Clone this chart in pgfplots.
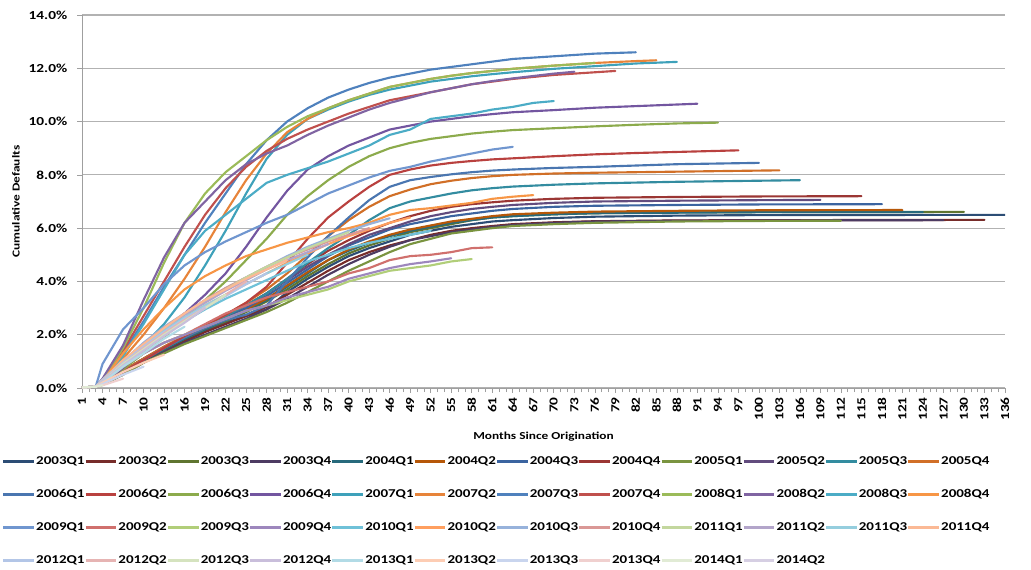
\documentclass[border=0pt]{standalone}
\usepackage{fontspec}
\setmainfont{Carlito}[FakeStretch=1.25]
\usepackage{pgfplots}
\pgfplotsset{compat=1.18}

\definecolor{gridgray}{RGB}{178,178,178}
% 2003Q1 .. 2004Q2
\definecolor{c01}{HTML}{2C4D75}\definecolor{c02}{HTML}{772C2A}\definecolor{c03}{HTML}{5F7530}
\definecolor{c04}{HTML}{4D3B62}\definecolor{c05}{HTML}{276A7C}\definecolor{c06}{HTML}{B65708}
% 2004Q3 .. 2005Q4
\definecolor{c07}{HTML}{3B64A0}\definecolor{c08}{HTML}{9B3634}\definecolor{c09}{HTML}{7A9440}
\definecolor{c10}{HTML}{624C7E}\definecolor{c11}{HTML}{338CA0}\definecolor{c12}{HTML}{D16F27}
% 2006Q1 .. 2007Q2
\definecolor{c13}{HTML}{4A76B0}\definecolor{c14}{HTML}{B9413F}\definecolor{c15}{HTML}{8CAB4C}
\definecolor{c16}{HTML}{7356A0}\definecolor{c17}{HTML}{3EA1BA}\definecolor{c18}{HTML}{E7843A}
% 2007Q3 .. 2008Q4
\definecolor{c19}{HTML}{4F81BD}\definecolor{c20}{HTML}{C0504D}\definecolor{c21}{HTML}{9BBB59}
\definecolor{c22}{HTML}{8064A2}\definecolor{c23}{HTML}{4BACC6}\definecolor{c24}{HTML}{F79646}
% 2009Q1 .. 2010Q2
\definecolor{c25}{HTML}{7096CF}\definecolor{c26}{HTML}{D0706D}\definecolor{c27}{HTML}{B1CE79}
\definecolor{c28}{HTML}{9D87BD}\definecolor{c29}{HTML}{6FC1D8}\definecolor{c30}{HTML}{FF9F5F}
% 2010Q3 .. 2011Q4
\definecolor{c31}{HTML}{97B2DB}\definecolor{c32}{HTML}{DA9896}\definecolor{c33}{HTML}{C3D79E}
\definecolor{c34}{HTML}{B3A5CA}\definecolor{c35}{HTML}{95CEDE}\definecolor{c36}{HTML}{FBB995}
% 2012Q1 .. 2013Q2
\definecolor{c37}{HTML}{B3C6E7}\definecolor{c38}{HTML}{E6B4B3}\definecolor{c39}{HTML}{D5E3BF}
\definecolor{c40}{HTML}{C9BEDB}\definecolor{c41}{HTML}{B2DBE6}\definecolor{c42}{HTML}{FDCDB4}
% 2013Q3 .. 2014Q2
\definecolor{c43}{HTML}{C9D5EE}\definecolor{c44}{HTML}{F0D0CF}\definecolor{c45}{HTML}{E1EBD5}
\definecolor{c46}{HTML}{D6CFE3}

\begin{document}
\begin{tikzpicture}
\useasboundingbox (0,0) rectangle (773.25pt,426.75pt);
\begin{axis}[
    at={(61.5pt,135.75pt)}, anchor=south west,
    scale only axis, width=692.25pt, height=279.75pt,
    xmin=1, xmax=136, ymin=0, ymax=14,
    axis x line*=bottom, axis y line*=left,
    axis line style={gray!75},
    xtick={1,4,...,136}, minor xtick={1,...,136},
    ytick={0,2,...,14},
    tick align=outside,
    major tick length=3.5pt, minor tick length=3pt,
    every tick/.style={gray!75},
    ymajorgrids, grid style={gridgray, line width=0.8pt},
    /pgf/number format/assume math mode=true,
    yticklabel={\pgfmathprintnumber[fixed,fixed zerofill,precision=1]{\tick}\%},
    yticklabel style={xshift=-4pt},
    xticklabel style={rotate=90, anchor=east},
    tick label style={font=\fontsize{9.2}{10}\selectfont\bfseries},
    xlabel={Months Since Origination},
    ylabel={Cumulative Defaults},
    xlabel style={at={(axis description cs:0.5,-0.131)}, anchor=center,
                  font=\fontsize{8}{9}\selectfont\bfseries},
    ylabel style={at={(axis description cs:-0.0715,0.5)}, anchor=center, rotate=0,
                  font=\fontsize{8}{9}\selectfont\bfseries},
    every axis plot/.append style={line width=1.6pt, line join=round, line cap=round, no markers},
    legend columns=12,
    legend cell align=left,
    legend image code/.code={\draw[#1, line width=2.2pt, line cap=butt] (0pt,0pt) -- (23pt,0pt);},
    legend style={at={(-0.087,-0.1823)}, anchor=north west, draw=none, fill=none,
                  inner xsep=0pt, inner ysep=0pt, column sep=0pt, row sep=17.25pt,
                  font=\fontsize{9}{10}\selectfont\bfseries,
                  nodes={text width=35.5pt, align=left, inner xsep=0.5pt, inner ysep=0pt,
                         text height=6pt, text depth=1.5pt}},
]
\addplot[c01] coordinates {(1,0.02)(3,0.05)(4,0.13)(7,0.6)(10,1.05)(13,1.45)(16,1.8)(19,2.15)(22,2.45)(25,2.7)(28,2.95)(31,3.6)(34,4.1)(37,4.55)(40,4.95)(43,5.25)(46,5.5)(49,5.75)(52,5.9)(55,6.05)(58,6.15)(61,6.25)(64,6.3)(70,6.38)(76,6.43)(88,6.47)(100,6.49)(136,6.5)};
\addlegendentry{2003Q1}
\addplot[c02] coordinates {(1,0.02)(3,0.05)(4,0.12)(7,0.55)(10,1.0)(13,1.4)(16,1.75)(19,2.1)(22,2.4)(25,2.7)(28,3.05)(31,3.5)(34,3.95)(37,4.4)(40,4.8)(43,5.1)(46,5.35)(49,5.55)(52,5.75)(55,5.9)(58,6.0)(61,6.08)(64,6.15)(70,6.22)(76,6.26)(88,6.29)(100,6.3)(133,6.31)};
\addlegendentry{2003Q2}
\addplot[c03] coordinates {(1,0.02)(3,0.05)(4,0.15)(7,0.6)(10,1.05)(13,1.45)(16,1.85)(19,2.2)(22,2.5)(25,2.85)(28,3.25)(31,3.7)(34,4.2)(37,4.65)(40,5.05)(43,5.35)(46,5.6)(49,5.85)(52,6.0)(55,6.15)(58,6.3)(61,6.4)(64,6.45)(70,6.52)(76,6.56)(88,6.59)(100,6.6)(130,6.61)};
\addlegendentry{2003Q3}
\addplot[c04] coordinates {(1,0.02)(3,0.05)(4,0.12)(7,0.5)(10,0.95)(13,1.35)(16,1.7)(19,2.0)(22,2.3)(25,2.6)(28,2.95)(31,3.35)(34,3.8)(37,4.25)(40,4.65)(43,5.0)(46,5.3)(49,5.55)(52,5.7)(55,5.85)(58,5.95)(61,6.05)(64,6.12)(70,6.2)(76,6.25)(88,6.28)(100,6.29)(127,6.3)};
\addlegendentry{2003Q4}
\addplot[c05] coordinates {(1,0.02)(3,0.05)(4,0.14)(7,0.6)(10,1.05)(13,1.45)(16,1.85)(19,2.2)(22,2.55)(25,2.9)(28,3.3)(31,3.8)(34,4.3)(37,4.8)(40,5.15)(43,5.45)(46,5.7)(49,5.9)(52,6.05)(55,6.2)(58,6.3)(61,6.4)(64,6.45)(70,6.52)(76,6.56)(88,6.58)(100,6.6)(124,6.6)};
\addlegendentry{2004Q1}
\addplot[c06] coordinates {(1,0.02)(3,0.05)(4,0.15)(7,0.65)(10,1.1)(13,1.5)(16,1.9)(19,2.25)(22,2.6)(25,2.95)(28,3.35)(31,3.85)(34,4.35)(37,4.8)(40,5.2)(43,5.5)(46,5.75)(49,5.95)(52,6.1)(55,6.25)(58,6.35)(61,6.45)(64,6.52)(70,6.58)(76,6.62)(88,6.65)(100,6.67)(121,6.68)};
\addlegendentry{2004Q2}
\addplot[c07] coordinates {(1,0.02)(3,0.05)(4,0.15)(7,0.65)(10,1.1)(13,1.5)(16,1.9)(19,2.3)(22,2.65)(25,3.0)(28,3.45)(31,3.95)(34,4.45)(37,4.95)(40,5.35)(43,5.65)(46,5.95)(49,6.15)(52,6.3)(55,6.45)(58,6.55)(61,6.65)(64,6.72)(70,6.8)(76,6.84)(88,6.87)(100,6.89)(118,6.9)};
\addlegendentry{2004Q3}
\addplot[c08] coordinates {(1,0.02)(3,0.05)(4,0.15)(7,0.65)(10,1.1)(13,1.55)(16,1.95)(19,2.35)(22,2.7)(25,3.1)(28,3.55)(31,4.1)(34,4.65)(37,5.15)(40,5.55)(43,5.9)(46,6.2)(49,6.45)(52,6.65)(55,6.8)(58,6.9)(61,6.97)(64,7.03)(70,7.1)(76,7.14)(88,7.17)(100,7.19)(115,7.2)};
\addlegendentry{2004Q4}
\addplot[c09] coordinates {(1,0.02)(3,0.05)(4,0.12)(7,0.5)(10,0.95)(13,1.3)(16,1.65)(19,1.95)(22,2.25)(25,2.55)(28,2.85)(31,3.2)(34,3.6)(37,4.0)(40,4.4)(43,4.75)(46,5.1)(49,5.4)(52,5.6)(55,5.8)(58,5.9)(61,6.0)(64,6.08)(70,6.15)(76,6.2)(88,6.25)(100,6.27)(112,6.28)};
\addlegendentry{2005Q1}
\addplot[c10] coordinates {(1,0.02)(3,0.05)(4,0.15)(7,0.6)(10,1.05)(13,1.5)(16,1.9)(19,2.3)(22,2.7)(25,3.1)(28,3.55)(31,4.05)(34,4.55)(37,5.0)(40,5.4)(43,5.75)(46,6.0)(49,6.25)(52,6.45)(55,6.6)(58,6.72)(61,6.8)(64,6.87)(70,6.95)(76,7.0)(88,7.03)(100,7.05)(109,7.06)};
\addlegendentry{2005Q2}
\addplot[c11] coordinates {(1,0.02)(3,0.05)(4,0.15)(7,0.6)(10,1.05)(13,1.5)(16,1.9)(19,2.3)(22,2.7)(25,3.1)(28,3.55)(31,4.1)(34,4.7)(37,5.25)(40,5.75)(43,6.3)(46,6.75)(49,7.0)(52,7.15)(55,7.3)(58,7.42)(61,7.5)(64,7.56)(70,7.63)(76,7.68)(88,7.74)(100,7.78)(106,7.8)};
\addlegendentry{2005Q3}
\addplot[c12] coordinates {(1,0.02)(3,0.05)(4,0.15)(7,0.65)(10,1.1)(13,1.55)(16,1.95)(19,2.35)(22,2.75)(25,3.2)(28,3.7)(31,4.3)(34,5.0)(37,5.7)(40,6.3)(43,6.8)(46,7.2)(49,7.45)(52,7.65)(55,7.78)(58,7.88)(61,7.95)(64,8.0)(70,8.05)(76,8.08)(88,8.12)(100,8.16)(103,8.17)};
\addlegendentry{2005Q4}
\addplot[c13] coordinates {(1,0.02)(3,0.05)(4,0.15)(7,0.6)(10,1.05)(13,1.5)(16,1.9)(19,2.25)(22,2.55)(25,2.75)(28,3.1)(31,4.0)(34,4.9)(37,5.7)(40,6.4)(43,7.05)(46,7.55)(49,7.8)(52,7.92)(55,8.02)(58,8.1)(61,8.16)(64,8.2)(70,8.26)(76,8.3)(82,8.35)(88,8.4)(100,8.45)};
\addlegendentry{2006Q1}
\addplot[c14] coordinates {(1,0.02)(3,0.05)(4,0.15)(7,0.6)(10,1.05)(13,1.5)(16,1.95)(19,2.35)(22,2.75)(25,3.2)(28,3.8)(31,4.7)(34,5.6)(37,6.4)(40,7.0)(43,7.55)(46,8.0)(49,8.2)(52,8.35)(55,8.45)(58,8.52)(61,8.58)(64,8.62)(70,8.7)(76,8.77)(82,8.82)(88,8.86)(97,8.92)};
\addlegendentry{2006Q2}
\addplot[c15] coordinates {(1,0.02)(3,0.05)(4,0.15)(7,0.7)(10,1.3)(13,1.9)(16,2.6)(19,3.3)(22,4.0)(25,4.8)(28,5.6)(31,6.5)(34,7.2)(37,7.8)(40,8.3)(43,8.7)(46,9.0)(49,9.2)(52,9.35)(55,9.45)(58,9.55)(61,9.62)(64,9.68)(70,9.75)(76,9.82)(82,9.88)(88,9.93)(94,9.96)};
\addlegendentry{2006Q3}
\addplot[c16] coordinates {(1,0.02)(3,0.05)(4,0.15)(7,0.75)(10,1.4)(13,2.1)(16,2.8)(19,3.5)(22,4.3)(25,5.3)(28,6.4)(31,7.4)(34,8.2)(37,8.7)(40,9.1)(43,9.4)(46,9.7)(49,9.85)(52,10.0)(55,10.1)(58,10.2)(61,10.28)(64,10.35)(70,10.43)(76,10.52)(82,10.58)(88,10.64)(91,10.67)};
\addlegendentry{2006Q4}
\addplot[c17] coordinates {(1,0.02)(3,0.05)(4,0.2)(7,0.9)(10,1.6)(13,2.4)(16,3.4)(19,4.6)(22,5.9)(25,7.3)(28,8.6)(31,9.5)(34,10.1)(37,10.45)(40,10.75)(43,11.0)(46,11.2)(49,11.35)(52,11.5)(55,11.6)(58,11.7)(61,11.78)(64,11.85)(70,11.98)(76,12.08)(82,12.18)(88,12.24)};
\addlegendentry{2007Q1}
\addplot[c18] coordinates {(1,0.02)(3,0.05)(4,0.25)(7,1.1)(10,2.0)(13,3.0)(16,4.1)(19,5.3)(22,6.6)(25,7.8)(28,8.8)(31,9.6)(34,10.1)(37,10.5)(40,10.8)(43,11.05)(46,11.3)(49,11.45)(52,11.6)(55,11.72)(58,11.82)(61,11.9)(64,11.98)(70,12.1)(76,12.2)(82,12.27)(85,12.3)};
\addlegendentry{2007Q2}
\addplot[c19] coordinates {(1,0.02)(3,0.05)(4,0.3)(7,1.3)(10,2.5)(13,3.8)(16,5.0)(19,6.2)(22,7.3)(25,8.4)(28,9.3)(31,10.0)(34,10.5)(37,10.9)(40,11.2)(43,11.45)(46,11.65)(49,11.8)(52,11.95)(55,12.05)(58,12.15)(61,12.25)(64,12.35)(70,12.45)(76,12.55)(82,12.6)};
\addlegendentry{2007Q3}
\addplot[c20] coordinates {(1,0.02)(3,0.05)(4,0.3)(7,1.4)(10,2.7)(13,4.0)(16,5.3)(19,6.5)(22,7.5)(25,8.3)(28,8.9)(31,9.35)(34,9.7)(37,10.0)(40,10.3)(43,10.55)(46,10.8)(49,10.95)(52,11.1)(55,11.25)(58,11.4)(61,11.5)(64,11.6)(70,11.75)(76,11.85)(79,11.9)};
\addlegendentry{2007Q4}
\addplot[c21] coordinates {(1,0.02)(3,0.05)(4,0.3)(7,1.5)(10,3.0)(13,4.7)(16,6.2)(19,7.3)(22,8.1)(25,8.7)(28,9.3)(31,9.8)(34,10.2)(37,10.5)(40,10.8)(43,11.05)(46,11.3)(49,11.45)(52,11.6)(55,11.72)(58,11.82)(61,11.9)(64,11.98)(70,12.1)(76,12.2)};
\addlegendentry{2008Q1}
\addplot[c22] coordinates {(1,0.02)(3,0.05)(4,0.35)(7,1.6)(10,3.3)(13,4.9)(16,6.2)(19,7.0)(22,7.8)(25,8.4)(28,8.8)(31,9.1)(34,9.5)(37,9.85)(40,10.15)(43,10.45)(46,10.7)(49,10.9)(52,11.1)(55,11.25)(58,11.4)(61,11.52)(64,11.62)(70,11.8)(73,11.87)};
\addlegendentry{2008Q2}
\addplot[c23] coordinates {(1,0.02)(3,0.05)(4,0.3)(7,1.2)(10,2.4)(13,3.7)(16,5.0)(19,5.9)(22,6.5)(25,7.1)(28,7.7)(31,8.0)(34,8.25)(37,8.5)(40,8.8)(43,9.1)(46,9.5)(49,9.7)(52,10.1)(55,10.2)(58,10.3)(61,10.45)(64,10.55)(67,10.7)(70,10.77)};
\addlegendentry{2008Q3}
\addplot[c24] coordinates {(1,0.02)(3,0.05)(4,0.25)(7,1.3)(10,2.2)(13,3.0)(16,3.7)(19,4.2)(22,4.6)(25,4.95)(28,5.2)(31,5.45)(34,5.65)(37,5.85)(40,6.0)(43,6.2)(46,6.5)(49,6.68)(52,6.75)(55,6.85)(58,6.95)(61,7.1)(64,7.18)(67,7.24)};
\addlegendentry{2008Q4}
\addplot[c25] coordinates {(1,0.02)(3,0.05)(4,0.9)(7,2.2)(10,3.0)(13,3.9)(16,4.6)(19,5.1)(22,5.5)(25,5.85)(28,6.2)(31,6.5)(34,6.9)(37,7.3)(40,7.6)(43,7.9)(46,8.15)(49,8.3)(52,8.5)(55,8.65)(58,8.8)(61,8.95)(64,9.05)};
\addlegendentry{2009Q1}
\addplot[c26] coordinates {(1,0.02)(3,0.05)(4,0.2)(7,0.8)(10,1.3)(13,1.7)(16,2.0)(19,2.4)(22,2.8)(25,3.1)(28,3.4)(31,3.6)(34,3.8)(37,4.0)(40,4.3)(43,4.5)(46,4.8)(49,4.95)(52,5.0)(55,5.1)(58,5.25)(61,5.28)};
\addlegendentry{2009Q2}
\addplot[c27] coordinates {(1,0.02)(3,0.05)(4,0.2)(7,0.8)(10,1.3)(13,1.7)(16,2.0)(19,2.3)(22,2.6)(25,2.9)(28,3.1)(31,3.3)(34,3.5)(37,3.7)(40,4.0)(43,4.2)(46,4.4)(49,4.5)(52,4.6)(55,4.75)(58,4.84)};
\addlegendentry{2009Q3}
\addplot[c28] coordinates {(1,0.02)(3,0.05)(4,0.2)(7,0.8)(10,1.3)(13,1.7)(16,2.0)(19,2.3)(22,2.6)(25,2.9)(28,3.1)(31,3.4)(34,3.6)(37,3.8)(40,4.1)(43,4.3)(46,4.5)(49,4.65)(52,4.75)(55,4.87)};
\addlegendentry{2009Q4}
\addplot[c29] coordinates {(1,0.02)(3,0.05)(4,0.25)(7,0.9)(10,1.5)(13,2.0)(16,2.5)(19,2.95)(22,3.35)(25,3.7)(28,4.05)(31,4.4)(34,4.75)(37,5.0)(40,5.25)(43,5.45)(46,5.6)(49,5.75)(52,5.9)};
\addlegendentry{2010Q1}
\addplot[c30] coordinates {(1,0.02)(3,0.05)(4,0.3)(7,1.0)(10,1.6)(13,2.15)(16,2.65)(19,3.1)(22,3.5)(25,3.9)(28,4.3)(31,4.7)(34,5.05)(37,5.4)(40,5.7)(43,5.95)(46,6.2)(49,6.4)};
\addlegendentry{2010Q2}
\addplot[c31] coordinates {(1,0.02)(3,0.05)(4,0.3)(7,1.0)(10,1.7)(13,2.3)(16,2.8)(19,3.3)(22,3.75)(25,4.15)(28,4.55)(31,4.95)(34,5.3)(37,5.6)(40,5.9)(43,6.15)(46,6.37)};
\addlegendentry{2010Q3}
\addplot[c32] coordinates {(1,0.02)(3,0.05)(4,0.3)(7,1.0)(10,1.65)(13,2.25)(16,2.8)(19,3.3)(22,3.75)(25,4.15)(28,4.55)(31,4.9)(34,5.2)(37,5.5)(40,5.75)(43,6.0)};
\addlegendentry{2010Q4}
\addplot[c33] coordinates {(1,0.02)(3,0.05)(4,0.3)(7,1.0)(10,1.6)(13,2.2)(16,2.75)(19,3.25)(22,3.7)(25,4.15)(28,4.55)(31,4.9)(34,5.25)(37,5.55)(40,5.85)};
\addlegendentry{2011Q1}
\addplot[c34] coordinates {(1,0.02)(3,0.05)(4,0.3)(7,1.0)(10,1.6)(13,2.2)(16,2.75)(19,3.2)(22,3.65)(25,4.05)(28,4.45)(31,4.8)(34,5.1)(37,5.4)};
\addlegendentry{2011Q2}
\addplot[c35] coordinates {(1,0.02)(3,0.05)(4,0.3)(7,1.0)(10,1.6)(13,2.15)(16,2.65)(19,3.1)(22,3.5)(25,3.9)(28,4.3)(31,4.65)(34,5.0)};
\addlegendentry{2011Q3}
\addplot[c36] coordinates {(1,0.02)(3,0.05)(4,0.3)(7,1.05)(10,1.65)(13,2.25)(16,2.8)(19,3.3)(22,3.7)(25,4.1)(28,4.45)(31,4.8)};
\addlegendentry{2011Q4}
\addplot[c37] coordinates {(1,0.02)(3,0.05)(4,0.3)(7,0.95)(10,1.55)(13,2.1)(16,2.6)(19,3.05)(22,3.45)(25,3.9)(28,4.3)};
\addlegendentry{2012Q1}
\addplot[c38] coordinates {(1,0.02)(3,0.05)(4,0.25)(7,0.9)(10,1.5)(13,2.05)(16,2.55)(19,3.0)(22,3.5)(25,4.0)};
\addlegendentry{2012Q2}
\addplot[c39] coordinates {(1,0.02)(3,0.05)(4,0.25)(7,0.9)(10,1.45)(13,2.0)(16,2.5)(19,3.0)(22,3.5)};
\addlegendentry{2012Q3}
\addplot[c40] coordinates {(1,0.02)(3,0.05)(4,0.25)(7,0.85)(10,1.4)(13,1.95)(16,2.45)(19,3.0)};
\addlegendentry{2012Q4}
\addplot[c41] coordinates {(1,0.02)(3,0.05)(4,0.2)(7,0.8)(10,1.3)(13,1.85)(16,2.3)};
\addlegendentry{2013Q1}
\addplot[c42] coordinates {(1,0.02)(3,0.05)(4,0.2)(7,0.6)(10,0.95)(13,1.25)};
\addlegendentry{2013Q2}
\addplot[c43] coordinates {(1,0.02)(3,0.05)(4,0.15)(7,0.5)(10,0.8)};
\addlegendentry{2013Q3}
\addplot[c44] coordinates {(1,0.02)(3,0.05)(4,0.1)(7,0.35)};
\addlegendentry{2013Q4}
\addplot[c45] coordinates {(1,0.02)(3,0.05)(4,0.1)};
\addlegendentry{2014Q1}
\addplot[c46] coordinates {(1,0.02)};
\addlegendentry{2014Q2}
\end{axis}
\end{tikzpicture}
\end{document}
